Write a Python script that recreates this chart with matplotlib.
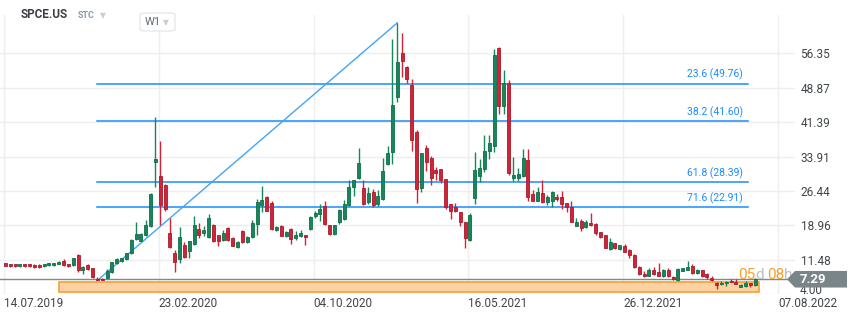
import matplotlib.pyplot as plt
import matplotlib.patches as mpatches
from matplotlib.transforms import blended_transform_factory
import numpy as np
import pandas as pd

# Weekly candles for SPCE.US (one row per week, starting 14.07.2019)
opens = [10.77, 10.6, 10.6, 10.15, 10.6, 10.6, 10.4, 10.4, 10.1, 10.3,
         10.3, 10.6, 11.25, 10.6, 10.3, 12.6, 9.3, 10.4, 9.7, 7.35,
         7.3, 7.65, 8.8, 10.76, 11.3, 11.6, 12.9, 16.0, 15.7, 16.9,
         18.9, 32.7, 29.7, 27.75, 17.35, 13.0, 11.6, 14.75, 13.45, 15.0,
         18.2, 17.3, 16.4, 19.0, 16.85, 15.85, 18.5, 16.25, 14.25, 17.7,
         15.3, 16.4, 19.3, 23.35, 25.1, 23.8, 17.95, 18.85, 16.7, 18.3,
         16.2, 16.6, 16.85, 18.15, 21.0, 21.35, 23.1, 19.0, 17.2, 19.8,
         20.45, 23.35, 27.4, 29.35, 27.1, 24.0, 26.25, 23.7, 24.66, 32.4,
         35.0, 46.93, 56.5, 53.3, 49.47, 39.33, 27.17, 35.7, 33.7, 31.0,
         31.2, 29.0, 23.6, 22.9, 21.8, 19.67, 15.83, 25.0, 29.8, 31.24,
         35.2, 36.3, 57.4, 45.0, 49.84, 29.2, 29.35, 29.6, 33.2, 25.75,
         24.35, 26.0, 24.15, 24.35, 25.2, 25.1, 23.8, 23.05, 18.93, 19.9,
         18.6, 19.5, 19.25, 17.5, 16.8, 13.95, 15.1, 13.8, 14.6, 13.65,
         12.57, 10.0, 8.45, 8.1, 9.35, 8.8, 7.9, 9.35, 7.85, 7.15,
         9.1, 9.3, 10.2, 8.6, 9.35, 8.5, 7.55, 6.4, 6.15, 6.4,
         7.0, 6.7, 5.7, 5.8, 6.4, 6.0]
highs = [10.9, 10.7, 10.7, 10.7, 10.7, 10.7, 10.5, 10.5, 10.7, 10.9,
         10.9, 11.15, 11.6, 10.7, 11.95, 12.85, 10.1, 10.5, 9.8, 7.8,
         7.6, 9.5, 11.1, 11.8, 12.0, 13.0, 16.0, 19.67, 17.3, 20.1,
         26.0, 42.6, 37.4, 28.0, 20.5, 13.7, 18.7, 15.3, 15.7, 21.0,
         19.6, 18.9, 21.5, 19.2, 17.0, 17.9, 18.7, 16.4, 15.5, 17.9,
         16.7, 20.1, 24.8, 27.55, 25.4, 24.2, 18.9, 19.0, 17.8, 18.5,
         17.8, 18.0, 17.0, 21.0, 22.2, 23.6, 24.3, 19.1, 19.1, 22.5,
         24.5, 28.85, 28.9, 35.85, 28.85, 27.4, 26.9, 26.6, 33.55, 36.3,
         59.45, 62.96, 60.8, 53.5, 50.77, 39.8, 34.8, 36.4, 34.1, 31.7,
         31.3, 29.1, 23.7, 23.9, 21.9, 19.8, 21.7, 35.0, 33.5, 38.6,
         38.6, 57.3, 57.7, 52.7, 50.5, 33.8, 31.5, 35.5, 35.6, 26.7,
         27.3, 28.85, 25.6, 26.5, 25.9, 26.46, 23.9, 24.3, 20.5, 20.3,
         20.1, 21.75, 19.5, 17.6, 16.9, 16.3, 15.2, 14.8, 15.0, 13.8,
         12.7, 10.1, 9.09, 9.8, 9.9, 10.76, 9.5, 9.8, 7.9, 9.8,
         9.8, 11.26, 10.6, 9.5, 9.4, 8.6, 7.9, 6.8, 6.9, 7.0,
         7.3, 7.3, 6.2, 6.9, 6.5, 7.6]
lows = [10.15, 10.0, 10.05, 10.05, 10.05, 10.0, 9.8, 9.8, 10.0, 10.2,
        10.2, 10.5, 10.2, 10.0, 10.2, 8.95, 8.4, 9.4, 7.6, 7.02,
        7.05, 7.5, 8.7, 10.6, 11.1, 11.4, 12.7, 15.9, 15.5, 16.7,
        18.7, 27.4, 19.1, 22.2, 14.0, 8.95, 10.9, 11.9, 11.9, 14.8,
        16.3, 16.6, 16.2, 15.3, 14.6, 15.7, 15.7, 14.5, 14.1, 15.1,
        15.1, 16.2, 16.9, 21.9, 22.0, 18.0, 17.8, 16.6, 16.5, 14.9,
        15.9, 16.4, 14.75, 18.0, 20.6, 19.9, 19.0, 16.9, 17.0, 19.2,
        20.2, 23.2, 25.4, 29.1, 23.5, 23.6, 23.0, 23.3, 24.4, 32.2,
        32.4, 45.85, 51.27, 49.8, 35.2, 23.92, 26.3, 30.8, 27.8, 28.8,
        28.1, 22.5, 20.3, 21.9, 18.75, 14.15, 15.7, 23.7, 28.5, 30.6,
        33.3, 35.0, 43.24, 43.24, 30.0, 28.7, 28.6, 29.4, 24.2, 24.2,
        24.2, 23.8, 23.5, 23.05, 24.2, 22.6, 21.97, 19.7, 18.8, 17.7,
        18.4, 18.9, 17.0, 16.2, 14.0, 13.7, 13.8, 13.6, 13.2, 12.0,
        9.8, 8.2, 7.8, 8.0, 8.3, 8.0, 7.8, 7.8, 7.1, 7.0,
        9.0, 9.2, 8.5, 8.5, 7.7, 7.3, 7.0, 5.1, 6.0, 5.8,
        6.6, 6.2, 5.6, 5.7, 5.5, 5.9]
closes = [10.25, 10.1, 10.15, 10.6, 10.15, 10.1, 9.9, 9.9, 10.6, 10.8,
          10.8, 11.05, 10.3, 10.1, 11.85, 9.3, 10.0, 9.5, 7.7, 7.05,
          7.1, 9.03, 11.0, 11.6, 11.85, 12.9, 15.8, 17.1, 17.1, 19.0,
          25.75, 33.4, 23.5, 22.6, 14.2, 11.0, 16.55, 12.1, 15.5, 19.0,
          16.95, 18.0, 20.5, 15.55, 15.6, 17.3, 15.85, 14.6, 15.3, 15.3,
          16.5, 19.4, 24.1, 24.6, 22.2, 18.15, 18.7, 16.75, 17.6, 15.95,
          16.85, 17.35, 16.4, 20.9, 21.6, 22.6, 19.2, 17.2, 19.0, 22.3,
          23.65, 27.3, 28.8, 32.5, 23.7, 26.0, 23.4, 25.4, 30.87, 34.77,
          45.1, 54.5, 54.74, 50.84, 37.53, 26.96, 34.64, 32.8, 29.2, 30.4,
          28.9, 22.9, 22.05, 22.05, 19.67, 16.2, 21.25, 31.0, 31.4, 35.15,
          36.9, 55.98, 45.0, 49.84, 30.3, 29.93, 30.15, 33.56, 25.2, 24.35,
          26.2, 24.0, 25.2, 26.3, 24.8, 23.6, 23.05, 19.8, 19.73, 18.5,
          19.8, 19.0, 17.25, 16.4, 14.15, 15.45, 14.15, 14.65, 13.3, 12.5,
          9.9, 8.35, 7.9, 9.35, 8.4, 8.1, 9.3, 7.9, 7.25, 9.45,
          9.65, 10.0, 8.58, 9.35, 8.1, 7.7, 7.05, 6.1, 6.4, 6.7,
          6.7, 6.3, 6.1, 6.4, 6.0, 7.29]

first_week = '14.07.2019'
date_ticks = ['14.07.2019', '23.02.2020', '04.10.2020', '16.05.2021', '26.12.2021', '07.08.2022']
price_ticks = [4.00, 11.48, 18.96, 26.44, 33.91, 41.39, 48.87, 56.35]

# Fibonacci retracement between the low and the high candle
fib_ratios = ['23.6', '38.2', '61.8', '71.6']
fib_levels = [49.76, 41.60, 28.39, 22.91]
fib_low_idx, fib_low = 19, 7.02
fib_high_idx, fib_high = 81, 62.96
fib_end_week = 153.8

# highlighted box along the bottom
box_start_idx, box_end_week = 11, 156.1
box_lo, box_hi = 4.45, 6.65

last_price = 7.29

GREEN = '#16875a'
RED = '#d22337'
FIB_BLUE = '#1a8cff'

plt.rcParams['font.family'] = ['Roboto', 'DejaVu Sans']

o = np.array(opens)
h = np.array(highs)
l = np.array(lows)
c = np.array(closes)
x = np.arange(len(o)) + 0.3

start = pd.to_datetime(first_week, dayfirst=True)
tick_weeks = (pd.to_datetime(date_ticks, dayfirst=True) - start).days / 7.0

W, H = 859, 320
fig = plt.figure(figsize=(W / 100, H / 100), dpi=100)
top_px, bottom_px, right_px = 15, 294.4, 795
ax = fig.add_axes([0, 1 - bottom_px / H, right_px / W, (bottom_px - top_px) / H])

px_per_week = 4.8375
ax.set_xlim(-4 / px_per_week, (right_px - 4) / px_per_week)
ax.set_ylim(4.0, 64.66)

# grid; the 4.00 label is placed by hand further down (it sits under the price tag)
ax.set_yticks(price_ticks)
ax.set_yticklabels([''] + ['%.2f' % v for v in price_ticks[1:]])
ax.set_xticks(tick_weeks)
ax.set_xticklabels(date_ticks, ha='left')
ax.yaxis.tick_right()
ax.tick_params(axis='y', length=0, pad=4, labelsize=8.5, labelcolor='#3f4549')
ax.tick_params(axis='x', length=0, pad=2, labelsize=8.5, labelcolor='#3f4549')
ax.grid(color='#eeeeee', lw=1, zorder=0)
ax.set_axisbelow(True)
for s in ax.spines.values():
    s.set_visible(False)

# orange box
ax.add_patch(mpatches.Rectangle((x[box_start_idx], box_lo), box_end_week - x[box_start_idx], box_hi - box_lo,
                                facecolor='#fcd2a4', edgecolor='#f5a033', lw=1.2, zorder=1))

# fib lines + labels
for r, lv in zip(fib_ratios, fib_levels):
    ax.plot([x[fib_low_idx], fib_end_week], [lv, lv], color=FIB_BLUE, lw=1.1, zorder=2)
    ax.text(fib_end_week - 1.0, lv + 0.7, '%s (%.2f)' % (r, lv), color=FIB_BLUE,
            fontsize=7.5, ha='right', va='bottom', zorder=2)

# trend line low -> high
ax.plot([x[fib_low_idx], x[fib_high_idx]], [fib_low, fib_high], color='#42a5f5', lw=1.0, zorder=2)

# last price line
ax.axhline(last_price, color='#7d8a90', lw=1.0, zorder=2)

# candles
up = c >= o
cols = np.where(up, GREEN, RED)
edges = np.where(up, '#0f6e48', '#a91b2c')
ax.vlines(x, l, h, colors=cols, lw=1.0, zorder=3)
body_lo = np.minimum(o, c)
body_h = np.maximum(np.abs(c - o), 0.25)
ax.bar(x, body_h, bottom=body_lo, width=0.62, color=cols, edgecolor=edges, lw=0.6, zorder=4)

tr = blended_transform_factory(fig.transFigure, ax.transData)

# bottom price label, half hidden by the tag
ax.text(800 / W, 4.95, '%.2f' % price_ticks[0], transform=tr, color='#3f4549', fontsize=8.5,
        va='center', ha='left', zorder=5, clip_on=False)

# countdown text on the price line
cd_parts = [('05', '#f7a128', 738), ('d', '#b9c1c5', 755), ('08', '#f7a128', 767), ('h', '#b9c1c5', 784)]
for txt, col, px in cd_parts:
    ax.text(px / W, last_price + 0.15, txt, transform=tr, color=col, fontsize=11,
            va='baseline', ha='left', zorder=5, clip_on=False)

# price tag on the right
tag = mpatches.Polygon([(787 / W, last_price), (795 / W, last_price + 1.8), (847 / W, last_price + 1.8),
                        (847 / W, last_price - 1.8), (795 / W, last_price - 1.8)],
                       closed=True, transform=tr, facecolor='#7a8589', edgecolor='none',
                       zorder=6, clip_on=False)
ax.add_patch(tag)
ax.text(800 / W, last_price, '%.2f' % last_price, transform=tr, color='white', fontsize=9.5,
        fontweight='bold', va='center', ha='left', zorder=7, clip_on=False)

# header
fig.text(21 / W, 1 - 15 / H, 'SPCE.US', fontsize=8.5, fontweight='bold', color='#3a4046', va='center')
fig.text(78 / W, 1 - 15.5 / H, 'STC', fontsize=6.5, fontweight='bold', color='#8a9aa6', va='center')
fig.text(100 / W, 1 - 16 / H, '▼', fontsize=5.5, color='#c8ced2', va='center')
wbox = mpatches.FancyBboxPatch((140 / W, 1 - 31 / H), 35 / W, 18 / H,
                               boxstyle='round,pad=0,rounding_size=0.006', transform=fig.transFigure,
                               facecolor='white', edgecolor='#dfe3e6', lw=0.8, zorder=5)
fig.patches.append(wbox)
fig.text(145 / W, 1 - 22 / H, 'W1', fontsize=8, color='#5f6a70', va='center', zorder=6)
fig.text(163 / W, 1 - 22.5 / H, '▼', fontsize=5.5, color='#c8ced2', va='center', zorder=6)

plt.savefig('out.png', dpi=100)
